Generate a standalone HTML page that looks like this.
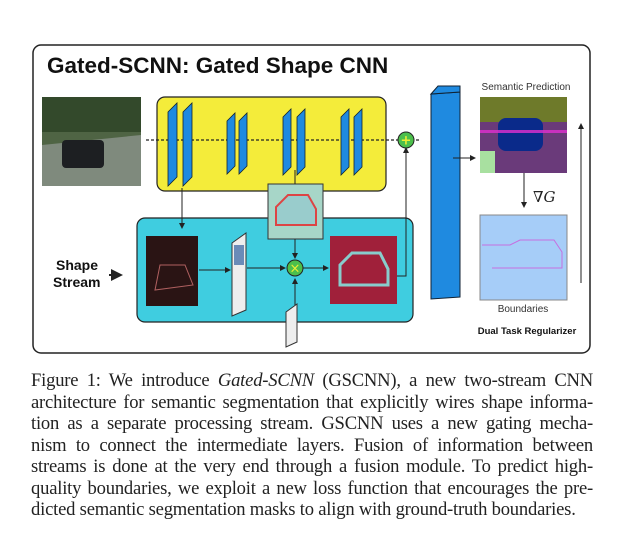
<!DOCTYPE html>
<html><head><meta charset="utf-8"><style>
body{margin:0;background:#fff;width:640px;height:545px;overflow:hidden;position:relative}
svg{position:absolute;left:0;top:0}
.cap{position:absolute;left:31px;top:370px;width:562px;font-family:"Liberation Serif",serif;font-size:18.6px;line-height:21.5px;color:#222;letter-spacing:-0.2px}
.cap div{text-align:justify;text-align-last:justify;white-space:nowrap}
.cap div.l{text-align-last:left}
</style></head><body>
<svg width="640" height="545" viewBox="0 0 640 545">
<defs><marker id="a" markerWidth="6" markerHeight="6" refX="5" refY="3" orient="auto"><path d="M0,0L6,3L0,6z" fill="#222"/></marker></defs>
<rect x="33" y="45" width="557" height="308" rx="8" fill="#fff" stroke="#222" stroke-width="1.5"/>
<text x="47" y="73" font-family="Liberation Sans,sans-serif" font-weight="bold" font-size="22.5" fill="#111">Gated-SCNN: Gated Shape CNN</text>
<rect x="42" y="97" width="99" height="89" fill="#4f6444"/>
<rect x="42" y="97" width="99" height="35" fill="#33492b"/>
<path d="M42,145 L141,135 L141,186 L42,186z" fill="#7f8a7d"/>
<rect x="62" y="140" width="42" height="28" rx="4" fill="#1d1f22"/>
<rect x="157" y="97" width="229" height="94" rx="8" fill="#f4ec3a" stroke="#222" stroke-width="1.2"/>
<line x1="146" y1="140" x2="420" y2="140" stroke="#222" stroke-dasharray="3,2" stroke-width="1.2"/>
<g fill="#1f8ae0" stroke="#123" stroke-width="0.8">
<path d="M168,112l9,-9v74l-9,9z"/><path d="M183,112l9,-9v74l-9,9z"/>
<path d="M227,121l8,-8v53l-8,8z"/><path d="M239,121l8,-8v53l-8,8z"/>
<path d="M283,117l8,-8v58l-8,8z"/><path d="M297,117l8,-8v58l-8,8z"/>
<path d="M341,117l8,-8v58l-8,8z"/><path d="M354,117l8,-8v58l-8,8z"/>
</g>
<rect x="137" y="218" width="276" height="104" rx="8" fill="#3fcde0" stroke="#222" stroke-width="1.2"/>
<line x1="182" y1="188" x2="182" y2="228" stroke="#222" marker-end="url(#a)"/>
<rect x="146" y="236" width="52" height="70" fill="#2a1414"/>
<path d="M155,290 l5,-25 h25 l8,20z" fill="none" stroke="#b06060"/>
<path d="M232,243 l14,-10 v77 l-14,6z" fill="#eee" stroke="#333"/>
<rect x="234" y="245" width="10" height="20" fill="#6a8bb8"/>
<line x1="199" y1="270" x2="230" y2="270" stroke="#222" marker-end="url(#a)"/>
<line x1="247" y1="268" x2="285" y2="268" stroke="#222" marker-end="url(#a)"/>
<line x1="302" y1="268" x2="328" y2="268" stroke="#222" marker-end="url(#a)"/>
<rect x="268" y="184" width="55" height="55" fill="#a7d6c8" stroke="#333"/>
<path d="M276,225 v-18 l12,-12 h20 l8,14 v16z" fill="#9cc" stroke="#d44" stroke-width="2"/>
<line x1="295" y1="170" x2="295" y2="184" stroke="#222"/>
<line x1="295" y1="239" x2="295" y2="258" stroke="#222" marker-end="url(#a)"/>
<circle cx="295" cy="268" r="8" fill="#4cbf4c" stroke="#222"/>
<text x="295" y="272.5" text-anchor="middle" font-size="13" fill="#ee3" font-family="DejaVu Sans">×</text>
<path d="M286,312 l11,-8 v38 l-11,5z" fill="#eee" stroke="#333"/>
<line x1="295" y1="305" x2="295" y2="279" stroke="#222" marker-end="url(#a)"/>
<rect x="330" y="236" width="67" height="68" fill="#a0203a"/>
<path d="M340,285 v-20 l12,-12 h28 l8,16 v16z" fill="#a0203a" stroke="#8cc" stroke-width="3"/>
<polyline points="397,276 406,276 406,148" fill="none" stroke="#222" marker-end="url(#a)"/>
<circle cx="406" cy="140" r="8" fill="#4cbf4c" stroke="#222"/>
<text x="406" y="144.5" text-anchor="middle" font-size="13" fill="#ee3" font-family="DejaVu Sans" font-weight="bold">+</text>
<text x="56" y="270" font-family="Liberation Sans,sans-serif" font-weight="bold" font-size="14" fill="#111">Shape</text>
<text x="53" y="287" font-family="Liberation Sans,sans-serif" font-weight="bold" font-size="14" fill="#111">Stream</text>
<line x1="109" y1="275" x2="121" y2="275" stroke="#222" stroke-width="2" marker-end="url(#a)"/>
<path d="M431,94 l29,-2 v205 l-29,2z" fill="#1f8ae0" stroke="#123"/>
<path d="M431,94 l7,-8 h22 l-0,6z" fill="#1f8ae0" stroke="#123"/>
<line x1="453" y1="158" x2="475" y2="158" stroke="#222" marker-end="url(#a)"/>
<text x="526" y="90" text-anchor="middle" font-family="Liberation Sans,sans-serif" font-size="10" fill="#333">Semantic Prediction</text>
<rect x="480" y="97" width="87" height="76" fill="#6a3a7a"/>
<rect x="480" y="97" width="87" height="25" fill="#6e7a2a"/>
<rect x="480" y="151" width="15" height="22" fill="#a8e0a0"/>
<rect x="498" y="118" width="45" height="33" rx="8" fill="#0a2a8a"/>
<rect x="480" y="130" width="87" height="3" fill="#e030d0" opacity="0.8"/>
<line x1="524" y1="173" x2="524" y2="207" stroke="#222" marker-end="url(#a)"/>
<text x="533" y="202" font-family="DejaVu Serif,serif" font-style="italic" font-size="15" fill="#222">∇G</text>
<rect x="480" y="215" width="87" height="85" fill="#a6cdf8" stroke="#888"/>
<path d="M482,245 h28 l10,-5 h34 l8,12 v16 h-70" fill="none" stroke="#c66ee0"/>
<text x="523" y="312" text-anchor="middle" font-family="Liberation Sans,sans-serif" font-size="10" fill="#333">Boundaries</text>
<text x="527" y="334" text-anchor="middle" font-family="Liberation Sans,sans-serif" font-weight="bold" font-size="9.5" fill="#111">Dual Task Regularizer</text>
<line x1="581" y1="283" x2="581" y2="124" stroke="#222" marker-end="url(#a)"/>
</svg>
<div class="cap">
<div>Figure 1: We introduce <i>Gated-SCNN</i> (GSCNN), a new two-stream CNN</div>
<div>architecture for semantic segmentation that explicitly wires shape informa-</div>
<div>tion as a separate processing stream. GSCNN uses a new gating mecha-</div>
<div>nism to connect the intermediate layers. Fusion of information between</div>
<div>streams is done at the very end through a fusion module. To predict high-</div>
<div>quality boundaries, we exploit a new loss function that encourages the pre-</div>
<div class="l">dicted semantic segmentation masks to align with ground-truth boundaries.</div>
</div>
</body></html>
